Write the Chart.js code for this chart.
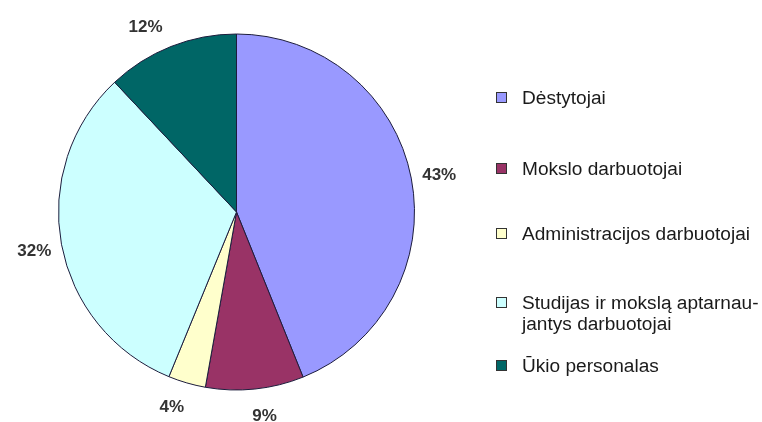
<!DOCTYPE html>
<html>
<head>
<meta charset="utf-8">
<script src="https://cdn.jsdelivr.net/npm/chart.js@4.4.0/dist/chart.umd.min.js"></script>
<style>
  html, body { margin: 0; padding: 0; background: #fff; }
  #wrap { position: relative; width: 762px; height: 422px; }
  #chart { position: absolute; left: 0; top: 0; }
  #legend { position: absolute; left: 0; top: 0; font-family: Arial, "Liberation Sans", sans-serif; font-size: 18px; color: #1a1a1a; }
  .item { position: absolute; left: 496px; }
  .box { position: absolute; left: 0; top: 4px; width: 9px; height: 9px; border: 1px solid #333; }
  .txt { position: absolute; left: 26px; white-space: nowrap; line-height: 21px; transform: scaleX(1.06); transform-origin: 0 0; }
</style>
</head>
<body>
<div id="wrap">
  <canvas id="chart" width="762" height="422"></canvas>
  <div id="legend"></div>
</div>
<script>
// duomenys
const categories = ['Dėstytojai', 'Mokslo darbuotojai', 'Administracijos darbuotojai', 'Studijas ir mokslą aptarnau-\njantys darbuotojai', 'Ūkio personalas'];
const shares = [43.9, 8.9, 3.4, 31.8, 12.0];
const pctLabels = ['43%', '9%', '4%', '32%', '12%'];
const colors = ['#9999ff', '#993366', '#ffffcc', '#ccffff', '#006666'];

// išdėstymas: legendos eilutės ir etikečių kampo pataisos (laipsniais)
const legendTops = [88, 159, 224, 293, 356];
const labelTurn = [0.7, -1.9, 2.1, -0.7, -4.6];

// procentai už apskritimo ribų
const outsideLabels = {
  id: 'outsideLabels',
  afterDatasetsDraw(chart) {
    const ctx = chart.ctx;
    const meta = chart.getDatasetMeta(0);
    ctx.save();
    ctx.font = 'bold 17px Arial, "Liberation Sans", sans-serif';
    ctx.fillStyle = '#333';
    ctx.textAlign = 'center';
    ctx.textBaseline = 'middle';
    meta.data.forEach((arc, i) => {
      const p = arc.getProps(['x', 'y', 'startAngle', 'endAngle', 'outerRadius'], true);
      const mid = (p.startAngle + p.endAngle) / 2 + labelTurn[i] * Math.PI / 180;
      const r = p.outerRadius + 28;
      ctx.fillText(pctLabels[i], p.x + Math.cos(mid) * r, p.y + Math.sin(mid) * r);
    });
    ctx.restore();
  }
};

const ctx = document.getElementById('chart').getContext('2d');
new Chart(ctx, {
  type: 'pie',
  data: {
    labels: categories,
    datasets: [{
      data: shares,
      backgroundColor: colors,
      borderColor: '#1c1c3c',
      borderWidth: 1
    }]
  },
  options: {
    responsive: false,
    animation: false,
    radius: 178,
    layout: { padding: { left: 0, right: 289, top: 2, bottom: 0 } },
    plugins: {
      legend: { display: false },
      tooltip: { enabled: false }
    }
  },
  plugins: [outsideLabels]
});

// legenda
const legend = document.getElementById('legend');
categories.forEach((name, i) => {
  const item = document.createElement('div');
  item.className = 'item';
  item.style.top = legendTops[i] + 'px';
  const box = document.createElement('div');
  box.className = 'box';
  box.style.background = colors[i];
  const txt = document.createElement('div');
  txt.className = 'txt';
  txt.innerHTML = name.split('\n').join('<br>');
  item.appendChild(box);
  item.appendChild(txt);
  legend.appendChild(item);
});
</script>
</body>
</html>
